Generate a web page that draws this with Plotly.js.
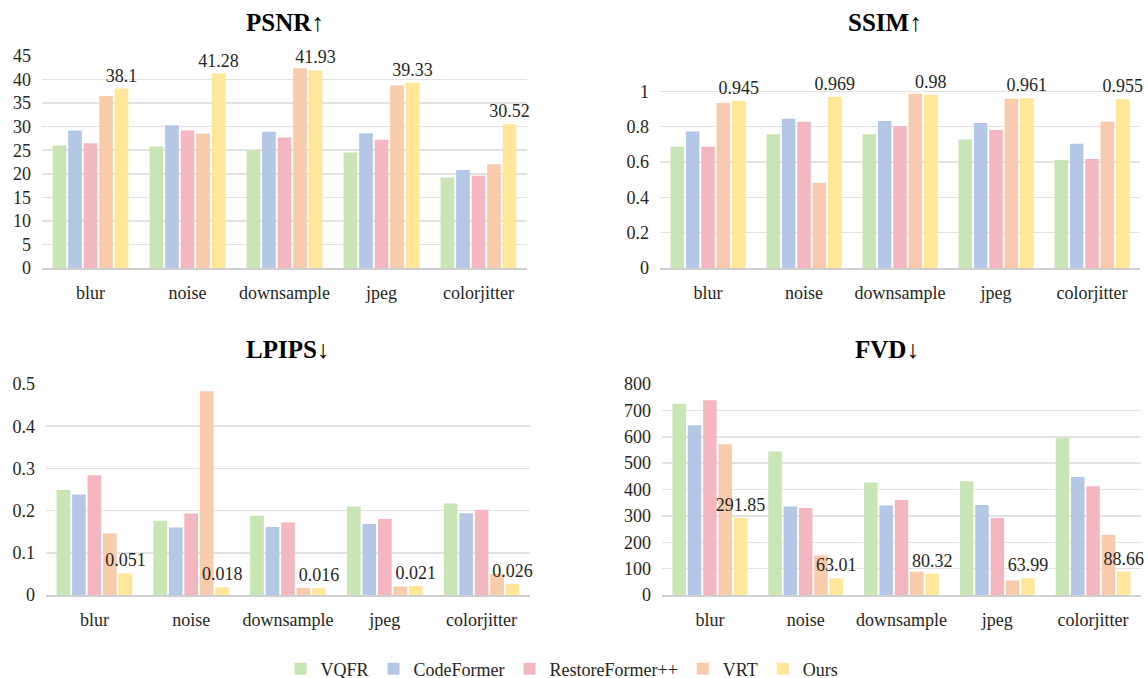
<!DOCTYPE html>
<html>
<head>
<meta charset="utf-8">
<script src="https://cdn.plot.ly/plotly-3.0.1.min.js"></script>
<style>html,body{margin:0;padding:0;background:#fff;}#chart{width:1148px;height:678px;}</style>
</head>
<body>
<div id="chart"></div>
<script>
// ---- data ----
const categories = ["blur", "noise", "downsample", "jpeg", "colorjitter"];
const methods = ["VQFR", "CodeFormer", "RestoreFormer++", "VRT", "Ours"];
const colors = ["#C9E4B5", "#B4C7E7", "#F4B6C0", "#F8CBAD", "#FFE699"];

const psnrVQFR = [26.0, 25.8, 25.0, 24.5, 19.2];
const psnrCodeFormer = [29.2, 30.3, 28.9, 28.6, 20.8];
const psnrRestoreFormer = [26.5, 29.2, 27.7, 27.2, 19.6];
const psnrVRT = [36.5, 28.5, 42.4, 38.8, 22.0];
const psnrOurs = [38.1, 41.28, 41.93, 39.33, 30.52];

const ssimVQFR = [0.687, 0.757, 0.757, 0.728, 0.611];
const ssimCodeFormer = [0.772, 0.845, 0.832, 0.821, 0.704];
const ssimRestoreFormer = [0.687, 0.828, 0.802, 0.781, 0.617];
const ssimVRT = [0.934, 0.483, 0.987, 0.958, 0.828];
const ssimOurs = [0.945, 0.969, 0.98, 0.961, 0.955];

const lpipsVQFR = [0.249, 0.176, 0.188, 0.210, 0.217];
const lpipsCodeFormer = [0.238, 0.160, 0.161, 0.168, 0.194];
const lpipsRestoreFormer = [0.284, 0.193, 0.172, 0.180, 0.202];
const lpipsVRT = [0.146, 0.483, 0.017, 0.020, 0.050];
const lpipsOurs = [0.051, 0.018, 0.016, 0.021, 0.026];

const fvdVQFR = [725, 544, 427, 431, 596];
const fvdCodeFormer = [644, 336, 339, 341, 447];
const fvdRestoreFormer = [738, 330, 360, 292, 412];
const fvdVRT = [572, 150, 88, 55, 228];
const fvdOurs = [291.85, 63.01, 80.32, 63.99, 88.66];

const metricTitles = ["PSNR↑", "SSIM↑", "LPIPS↓", "FVD↓"];
const psnrTicks = [0, 5, 10, 15, 20, 25, 30, 35, 40, 45];
const ssimTicks = [0, 0.2, 0.4, 0.6, 0.8, 1, 1.2];
const ssimTickText = ["0", "0.2", "0.4", "0.6", "0.8", "1", ""];
const lpipsTicks = [0, 0.1, 0.2, 0.3, 0.4, 0.5];
const fvdTicks = [0, 100, 200, 300, 400, 500, 600, 700, 800];

// ---- build ----
const FONT = "Liberation Serif";
const TXT = "#262626";
const metrics = [
  {series: [psnrVQFR, psnrCodeFormer, psnrRestoreFormer, psnrVRT, psnrOurs], xa: "x", ya: "y"},
  {series: [ssimVQFR, ssimCodeFormer, ssimRestoreFormer, ssimVRT, ssimOurs], xa: "x2", ya: "y2"},
  {series: [lpipsVQFR, lpipsCodeFormer, lpipsRestoreFormer, lpipsVRT, lpipsOurs], xa: "x3", ya: "y3"},
  {series: [fvdVQFR, fvdCodeFormer, fvdRestoreFormer, fvdVRT, fvdOurs], xa: "x4", ya: "y4"}
];

const traces = [];
metrics.forEach((m, mi) => {
  m.series.forEach((vals, si) => {
    const isOurs = si === methods.length - 1;
    traces.push({
      type: "bar",
      name: methods[si],
      legendgroup: methods[si],
      showlegend: mi === 0,
      x: categories,
      y: vals,
      xaxis: m.xa,
      yaxis: m.ya,
      marker: {color: colors[si], line: {width: 0}},
      text: isOurs ? vals.map(v => String(v)) : undefined,
      textposition: isOurs ? "outside" : "none",
      constraintext: "none",
      cliponaxis: false,
      textfont: {family: FONT, size: 18, color: TXT},
      hoverinfo: "x+y+name"
    });
  });
});

const W = 1148, H = 678;
const px = v => v / W;
const py = v => 1 - v / H;

function xAxis(x0, x1, anchor) {
  return {
    domain: [px(x0), px(x1)], anchor: anchor,
    showgrid: false, showline: true, linecolor: "#D0D0D0", linewidth: 1.5,
    ticks: "", ticklabelstandoff: 8,
    tickfont: {family: FONT, size: 18, color: TXT},
    fixedrange: true
  };
}
function yAxis(yTop, yBot, anchor, range, tickvals, ticktext) {
  const a = {
    domain: [py(yBot), py(yTop)], anchor: anchor, range: range,
    tickmode: "array", tickvals: tickvals,
    showgrid: true, gridcolor: "#E3E3E3", gridwidth: 1.5,
    zeroline: false, showline: false, ticks: "", ticklabelstandoff: 10,
    tickfont: {family: FONT, size: 18, color: TXT},
    fixedrange: true
  };
  if (ticktext) a.ticktext = ticktext;
  return a;
}

const layout = {
  width: W, height: H,
  margin: {l: 0, r: 0, t: 0, b: 0, autoexpand: false},
  paper_bgcolor: "#FFFFFF", plot_bgcolor: "#FFFFFF",
  barmode: "group", bargap: 0.2, bargroupgap: 0.12,
  xaxis: xAxis(42, 527, "y"),
  yaxis: yAxis(56, 268, "x", [0, 45], psnrTicks),
  xaxis2: xAxis(660, 1140, "y2"),
  yaxis2: yAxis(56, 268, "x2", [0, 1.2], ssimTicks, ssimTickText),
  xaxis3: xAxis(46, 530, "y3"),
  yaxis3: yAxis(384, 595, "x3", [0, 0.5], lpipsTicks),
  xaxis4: xAxis(662, 1141, "y4"),
  yaxis4: yAxis(384, 595, "x4", [0, 800], fvdTicks),
  legend: {
    orientation: "h", x: px(562), xanchor: "center", y: py(669), yanchor: "middle",
    font: {family: FONT, size: 18, color: TXT}, itemwidth: 30, tracegroupgap: 0,
    bgcolor: "rgba(0,0,0,0)"
  },
  annotations: [
    {text: metricTitles[0], x: px(285), y: py(22)},
    {text: metricTitles[1], x: px(885), y: py(22)},
    {text: metricTitles[2], x: px(287), y: py(350)},
    {text: metricTitles[3], x: px(887), y: py(350)}
  ].map(a => Object.assign(a, {
    xref: "paper", yref: "paper", xanchor: "center", yanchor: "middle", showarrow: false,
    font: {family: FONT, size: 25, color: "#000000", weight: "bold"}
  }))
};

function draw() {
  Plotly.newPlot("chart", traces, layout, {displayModeBar: false, staticPlot: true});
}
if (document.fonts && document.fonts.load) {
  Promise.all([
    document.fonts.load('18px "Liberation Serif"'),
    document.fonts.load('bold 25px "Liberation Serif"')
  ]).then(draw, draw);
} else {
  draw();
}
</script>
</body>
</html>
